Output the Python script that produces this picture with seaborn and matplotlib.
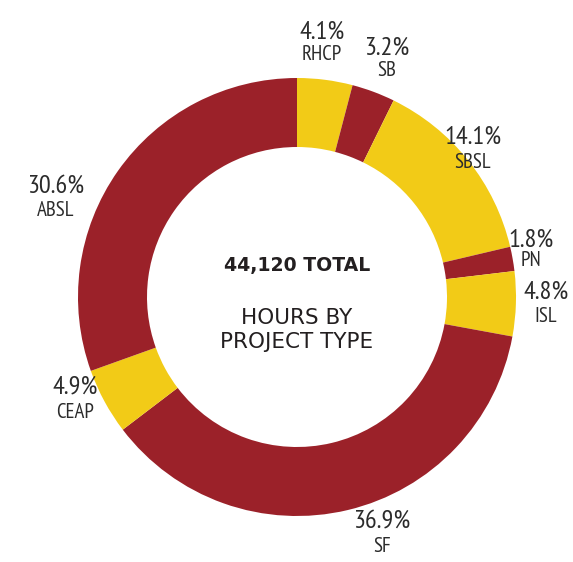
import matplotlib
matplotlib.use("Agg")
import matplotlib.pyplot as plt
import seaborn as sns

# datos (sentido horario desde arriba)
project_types = ["RHCP", "SB", "SBSL", "PN", "ISL", "SF", "CEAP", "ABSL"]
shares = [4.1, 3.2, 14.1, 1.8, 4.8, 36.9, 4.9, 30.6]
total_hours = "44,120 TOTAL"
subtitle = "HOURS BY\nPROJECT TYPE"

RED = "#9b2129"
YELLOW = "#f2cb17"
seg_colors = [YELLOW, RED, YELLOW, RED, YELLOW, RED, YELLOW, RED]

# posiciones de etiquetas en pixeles (x, y desde arriba) para % y nombre
label_pos = [
    (322, 32, 54), (387, 48, 71), (473, 137, 162), (531, 240, 260),
    (546, 292, 317), (382, 522, 546), (75, 387, 413), (56, 186, 210),
]

W, H = 573, 562
CX, CY = 297, 297

sns.set_theme(style="white")
narrow = ["PT Sans Narrow", "Roboto Condensed", "DejaVu Sans"]
center_font = ["DejaVu Sans"]

fig = plt.figure(figsize=(W / 100, H / 100), dpi=100)
ax = fig.add_axes([0, 0, 1, 1])

ax.pie(
    shares,
    colors=seg_colors,
    startangle=90,
    counterclock=False,
    center=(CX, H - CY),
    radius=219,
    wedgeprops=dict(width=69, linewidth=0),
    frame=True,
)
ax.set_xlim(0, W)
ax.set_ylim(0, H)
ax.set_aspect("equal")
ax.axis("off")

for name, val, (x, yp, yn) in zip(project_types, shares, label_pos):
    ax.text(x, H - yp, f"{val:.1f}%", ha="center", va="center",
            fontsize=19, color="#2b2b2b", family=narrow)
    ax.text(x, H - yn, name, ha="center", va="center",
            fontsize=15, color="#2b2b2b", family=narrow)

ax.text(CX, H - 265, total_hours, ha="center", va="center",
        fontsize=13.6, fontweight="bold", color="#231f20", family=center_font)
ax.text(CX, H - 330, subtitle, ha="center", va="center",
        fontsize=15.5, color="#231f20", family=center_font, linespacing=1.25)

fig.savefig("out.png", dpi=100, facecolor="white")
